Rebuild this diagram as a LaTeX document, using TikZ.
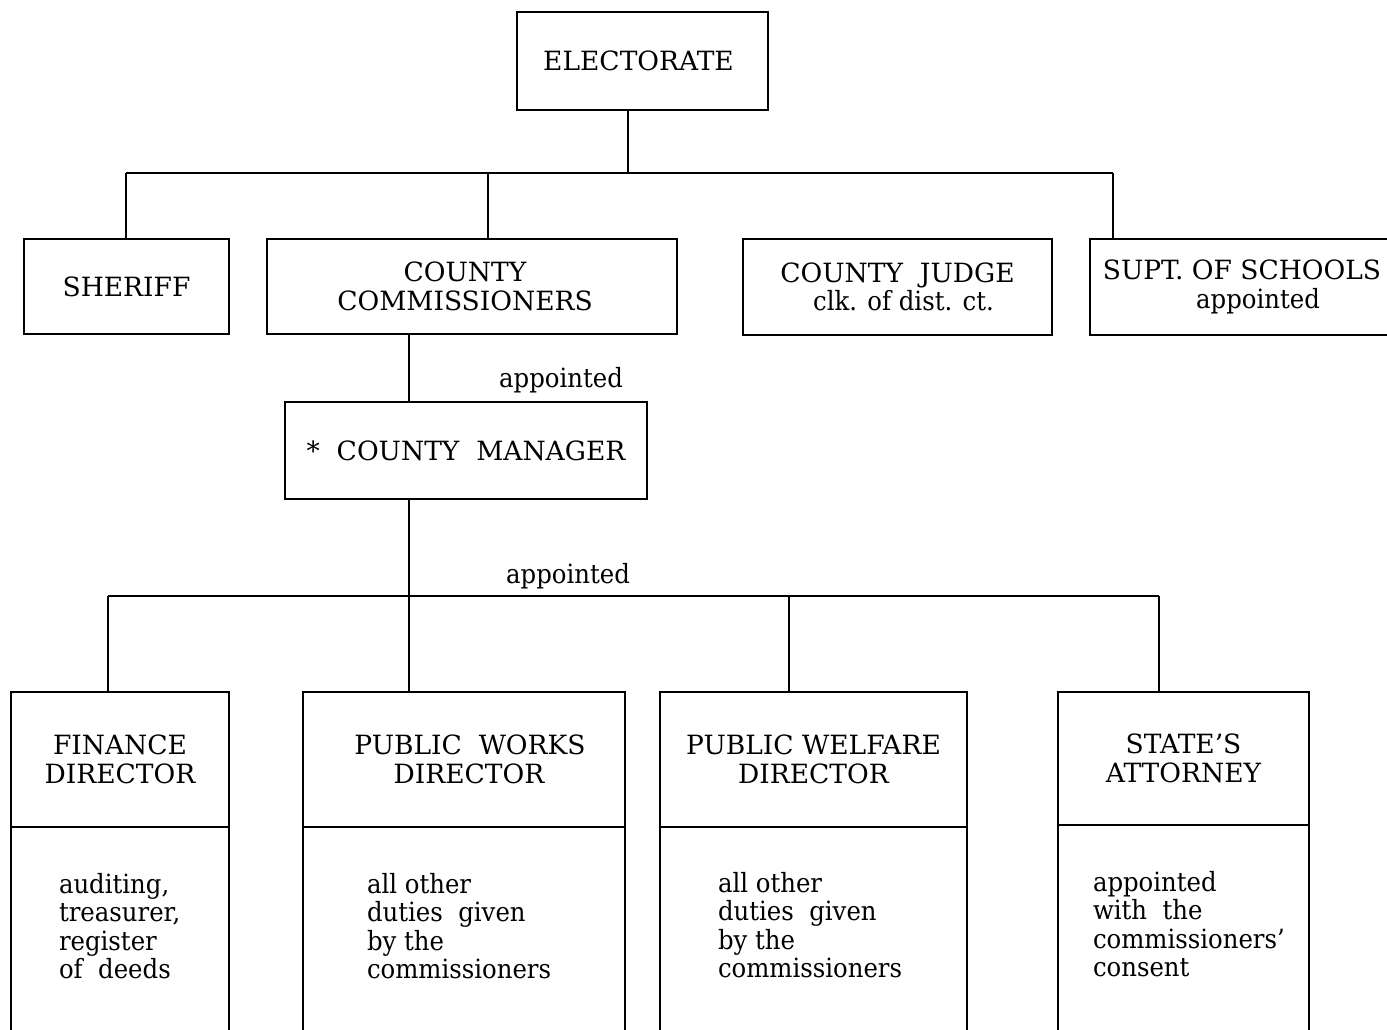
\documentclass[tikz,border=0pt]{standalone}
\usepackage{fontspec}
\setmainfont{DejaVu Serif}
\newfontfamily\lcfont{DejaVu Serif}[FakeStretch=0.92, Ligatures=TeX]
\begin{document}
\begin{tikzpicture}[x=1pt,y=-1pt,
  line width=1.6pt,
  every node/.style={inner sep=0pt, outer sep=0pt},
  txt/.style={font=\fontsize{26.5}{28.6}\selectfont},
  lctxt/.style={font=\lcfont\fontsize{26.5}{28.6}\selectfont},
  box/.style={draw, rectangle, txt, align=center},
  duties/.style={lctxt, align=left, anchor=north west}]
\useasboundingbox (0,0) rectangle (1387,1029);
\clip (0,0) rectangle (1387,1029);

% top level
\node[box, minimum width=251pt, minimum height=98pt] (elec) at (642.5,61) {ELECTORATE\hspace*{8pt}};

% elected offices
\node[box, minimum width=205pt, minimum height=95pt] (sheriff) at (126.5,286.5) {SHERIFF};
\node[box, minimum width=410pt, minimum height=95pt] (comm) at (472,286.5) {COUNTY\hspace*{14pt}\\COMMISSIONERS\hspace*{14pt}};
\node[box, minimum width=309pt, minimum height=96pt] (judge) at (897.5,287) {COUNTY\ \ JUDGE\\\hspace*{12pt}{\lcfont clk. of dist. ct.}};
\node[box, minimum width=304pt, minimum height=96pt] (supt) at (1242,287) {SUPT. OF SCHOOLS\\\hspace*{32pt}{\lcfont appointed}};

% manager
\node[box, minimum width=362pt, minimum height=97pt] (mgr) at (466,450.5) {*\ \ COUNTY\ \ MANAGER};

% departments: heading part
\node[box, minimum width=218pt, minimum height=135pt] (fin) at (120,759.5) {FINANCE\\DIRECTOR};
\node[box, minimum width=322pt, minimum height=135pt] (pw) at (464,759.5) {\hspace*{12pt}PUBLIC\ \ WORKS\\\hspace*{10pt}DIRECTOR};
\node[box, minimum width=307pt, minimum height=135pt] (pwel) at (813.5,759.5) {PUBLIC WELFARE\\DIRECTOR};
\node[box, minimum width=251pt, minimum height=133pt] (sa) at (1183.5,758.5) {STATE'S\\ATTORNEY};

% departments: duties part (runs off the lower edge)
\node[draw, minimum width=218pt, minimum height=240pt, anchor=north] (finlow) at (fin.south) {};
\node[draw, minimum width=322pt, minimum height=240pt, anchor=north] (pwlow) at (pw.south) {};
\node[draw, minimum width=307pt, minimum height=240pt, anchor=north] (pwellow) at (pwel.south) {};
\node[draw, minimum width=251pt, minimum height=240pt, anchor=north] (salow) at (sa.south) {};

\node[duties] (findut) at (59,873) {auditing,\\treasurer,\\register\\of\ \ deeds};
\node[duties] (pwdut) at (367,873) {all other\\duties\ \ given\\by the\\commissioners};
\node[duties] (pweldut) at (718,872) {all other\\duties\ \ given\\by the\\commissioners};
\node[duties] (sadut) at (1093,871) {appointed\\with\ \ the\\commissioners'\\consent};

% labels on the lines
\node[lctxt] (app1) at (561,380) {appointed};
\node[lctxt] (app2) at (568,576) {appointed};

% connectors from the electorate
\coordinate (eTap) at (628,173);
\coordinate (busL) at (126,173);
\coordinate (busR) at (1113,173);
\coordinate (cTap) at (488,173);
\draw (elec.south -| eTap) -- (eTap);
\draw (busL) -- (busR);
\draw (busL) -- (busL |- sheriff.north);
\draw (cTap) -- (cTap |- comm.north);
\draw (busR) -- (busR |- supt.north);

% commissioners -> manager -> departments
\coordinate (spine) at (409,596);
\coordinate (bus2L) at (108,596);
\coordinate (bus2R) at (1159,596);
\coordinate (welTap) at (789,596);
\draw (comm.south -| spine) -- (mgr.north -| spine);
\draw (mgr.south -| spine) -- (pw.north -| spine);
\draw (bus2L) -- (bus2R);
\draw (bus2L) -- (bus2L |- fin.north);
\draw (welTap) -- (welTap |- pwel.north);
\draw (bus2R) -- (bus2R |- sa.north);
\end{tikzpicture}
\end{document}
